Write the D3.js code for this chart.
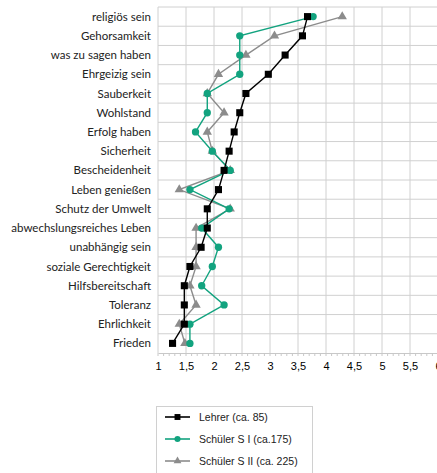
<!DOCTYPE html>
<html>
<head>
<meta charset="utf-8">
<script src="https://cdn.jsdelivr.net/npm/d3@7"></script>
<style>
  body { margin: 0; background: #fff; }
  svg { display: block; }
</style>
</head>
<body>
<svg id="drawing_region"></svg>
<script>
// Werte (Mittelwerte), von oben nach unten
const categories = ['religiös sein', 'Gehorsamkeit', 'was zu sagen haben', 'Ehrgeizig sein',
    'Sauberkeit', 'Wohlstand', 'Erfolg haben', 'Sicherheit', 'Bescheidenheit',
    'Leben genießen', 'Schutz der Umwelt', 'abwechslungsreiches Leben', 'unabhängig sein',
    'soziale Gerechtigkeit', 'Hilfsbereitschaft', 'Toleranz', 'Ehrlichkeit', 'Frieden'];

const lehrer = [3.67, 3.58, 3.27, 2.97, 2.57, 2.46, 2.36, 2.27, 2.18,
    2.08, 1.88, 1.88, 1.77, 1.57, 1.47, 1.47, 1.47, 1.26];
const schuelerS1 = [3.77, 2.46, 2.46, 2.46, 1.88, 1.88, 1.67, 1.97, 2.29,
    1.57, 2.27, 1.78, 2.08, 1.97, 1.78, 2.18, 1.57, 1.57];
const schuelerS2 = [4.29, 3.08, 2.57, 2.08, 1.88, 2.18, 1.88, 1.97, 2.29,
    1.38, 2.29, 1.68, 1.68, 1.68, 1.57, 1.68, 1.38, 1.48];

const seriesNames = ['Lehrer (ca. 85)', 'Schüler S I (ca.175)', 'Schüler S II (ca. 225)'];
const xTicks = [1, 1.5, 2, 2.5, 3, 3.5, 4, 4.5, 5, 5.5, 6];

const width = 437, height = 473;
const margin = {top: 7, left: 158, bottom: 120};
const plotBottom = 353;

const svg = d3.select('#drawing_region')
    .attr('width', width)
    .attr('height', height);

const xscale = d3.scaleLinear().domain([1, 6]).range([margin.left, margin.left + 280]);
const yscale = d3.scaleBand().domain(categories).range([margin.top, plotBottom]);

const series = [
    {name: seriesNames[0], values: lehrer, color: '#000000', symbol: d3.symbolSquare, size: 50},
    {name: seriesNames[1], values: schuelerS1, color: '#12a37f', symbol: d3.symbolCircle, size: 42},
    {name: seriesNames[2], values: schuelerS2, color: '#8c8c8c', symbol: d3.symbolTriangle, size: 38}
];

// Gitter
const grid = svg.append('g');
grid.selectAll('line.v')
    .data(xTicks)
    .join('line')
    .attr('x1', d => xscale(d)).attr('x2', d => xscale(d))
    .attr('y1', margin.top).attr('y2', plotBottom)
    .attr('stroke', '#d0d0d0');
grid.selectAll('line.h')
    .data(categories)
    .join('line')
    .attr('x1', margin.left).attr('x2', width)
    .attr('y1', d => yscale(d)).attr('y2', d => yscale(d))
    .attr('stroke', '#d0d0d0');

// x-Achse
const xaxis = d3.axisBottom(xscale)
    .tickValues(xTicks)
    .tickSize(0)
    .tickPadding(9)
    .tickFormat(d => String(d).replace('.', ','));
const xg = svg.append('g')
    .attr('transform', `translate(0, ${plotBottom})`)
    .call(xaxis);
xg.select('.domain').attr('stroke', '#c8c8c8');
xg.selectAll('text')
    .style('font-family', '"Liberation Sans", Arial, sans-serif')
    .style('font-size', '11px')
    .attr('fill', '#000');

// kleine Striche
xg.selectAll('line.minor')
    .data(d3.range(1, 6.01, 0.1))
    .join('line')
    .attr('class', 'minor')
    .attr('x1', d => xscale(d)).attr('x2', d => xscale(d))
    .attr('y1', 0).attr('y2', 3)
    .attr('stroke', '#c8c8c8');

// Kategorien
svg.append('g').selectAll('text')
    .data(categories)
    .join('text')
    .attr('x', margin.left - 7)
    .attr('y', d => yscale(d) + yscale.bandwidth() / 2)
    .attr('dy', '0.35em')
    .attr('text-anchor', 'end')
    .style('font-family', 'Lato, sans-serif')
    .style('font-size', '11.5px')
    .attr('fill', '#222')
    .text(d => d);

const line = d3.line()
    .x(d => xscale(d.v))
    .y(d => yscale(d.c) + yscale.bandwidth() / 2);

// Reihenfolge: grau, grün, schwarz
[series[2], series[1], series[0]].forEach(s => {
    const pts = s.values.map((v, i) => ({v: v, c: categories[i]}));
    const g = svg.append('g');
    g.append('path')
        .datum(pts)
        .attr('d', line)
        .attr('fill', 'none')
        .attr('stroke', s.color)
        .attr('stroke-width', 1.4);
    g.selectAll('path.m')
        .data(pts)
        .join('path')
        .attr('class', 'm')
        .attr('transform', d => `translate(${xscale(d.v)}, ${yscale(d.c) + yscale.bandwidth() / 2})`)
        .attr('d', d3.symbol(s.symbol, s.size))
        .attr('fill', s.color);
});

// Legende
const legend = svg.append('g');
legend.append('rect')
    .attr('x', 156.5).attr('y', 406.5)
    .attr('width', 156).attr('height', 80)
    .attr('fill', '#fff')
    .attr('stroke', '#d0d0d0');
series.forEach((s, i) => {
    const y = 417 + i * 22;
    legend.append('line')
        .attr('x1', 165).attr('x2', 190)
        .attr('y1', y).attr('y2', y)
        .attr('stroke', s.color)
        .attr('stroke-width', 1.6);
    legend.append('path')
        .attr('transform', `translate(177.5, ${y})`)
        .attr('d', d3.symbol(s.symbol, s.size * 0.7))
        .attr('fill', s.color);
    legend.append('text')
        .attr('x', 199).attr('y', y)
        .attr('dy', '0.35em')
        .style('font-family', '"Liberation Sans", Arial, sans-serif')
        .style('font-size', '10.5px')
        .attr('fill', '#222')
        .text(s.name);
});
</script>
</body>
</html>
